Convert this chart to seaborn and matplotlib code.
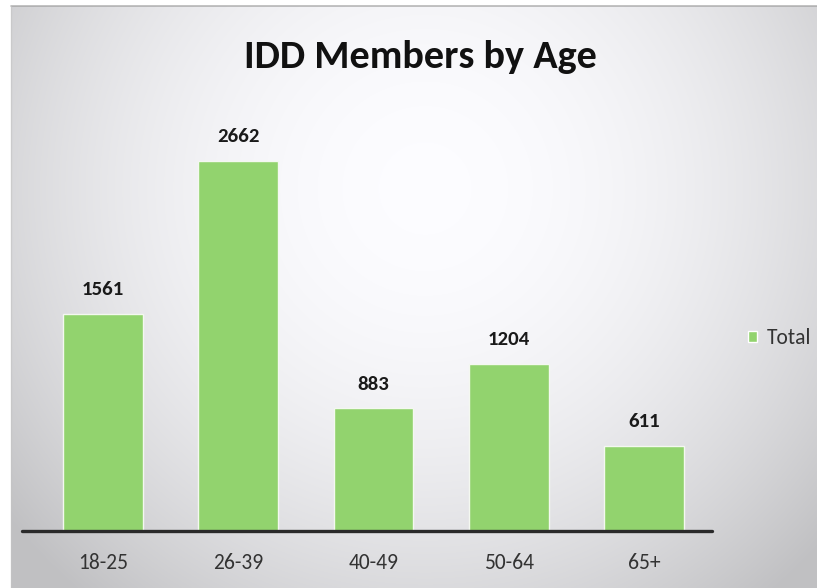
import numpy as np
import pandas as pd
import matplotlib
matplotlib.use("Agg")
import matplotlib.pyplot as plt
from matplotlib.patches import Patch
import seaborn as sns

age_groups = ["18-25", "26-39", "40-49", "50-64", "65+"]
members = [1561, 2662, 883, 1204, 611]
series_name = "Total"
title_text = "IDD Members by Age"

BAR_GREEN = "#92d36e"
TEXT_DARK = "#1a1a1a"
TICK_GREY = "#333333"

sns.set_theme(style="white")
plt.rcParams["font.family"] = ["Carlito", "DejaVu Sans"]

W, H = 817, 588
fig = plt.figure(figsize=(W / 100, H / 100), dpi=100)

# pale grey backdrop: near-white in the middle, greyer toward the edges
bg = fig.add_axes([0, 0, 1, 1], zorder=0)
yy, xx = np.mgrid[0:H, 0:W]
dx = (xx - W * 0.52) / (W * 0.52)
dy = (yy - H * 0.32) / (H * 0.72)
r = np.clip(np.sqrt(dx ** 2 + dy ** 2), 0, 1.5)
shade = 0.99 - 0.15 * np.clip(r, 0, 1.25) ** 2.0
img = np.dstack([shade, shade, np.clip(shade * 1.012, 0, 1)])
img[:, :11] = 1.0
img[:6, :] = 1.0
bg.imshow(np.clip(img, 0, 1), aspect="auto", extent=[0, 1, 0, 1])
bg.plot([11 / W, 1], [1 - 6 / H, 1 - 6 / H], color="#9a9a9a", lw=1.2, alpha=0.7)
bg.plot([11 / W, 11 / W], [0, 1 - 6 / H], color="#c4c4c4", lw=1.0, alpha=0.6)
bg.set_xlim(0, 1)
bg.set_ylim(0, 1)
bg.axis("off")

# plot area: baseline at y=531 px, category band 35..712 px
left, right = 35 / W, 712 / W
bottom, top = (H - 531) / H, (H - 100) / H
ax = fig.add_axes([left, bottom, right - left, top - bottom], zorder=1)
ax.patch.set_alpha(0)

df = pd.DataFrame({"age": age_groups, "members": members})
sns.barplot(data=df, x="age", y="members", color=BAR_GREEN, saturation=1,
            width=0.59, ax=ax, edgecolor="#f4f8f0", linewidth=1.0)

px_per_unit = 370 / 2662
ax.set_ylim(0, 431 / px_per_unit)
ax.set_xlim(-0.5, 4.5)

for i, v in enumerate(members):
    ax.annotate(f"{v}", (i, v), xytext=(0, 13.5), textcoords="offset points",
                ha="center", va="baseline", fontsize=15, fontweight="bold",
                color=TEXT_DARK)

for s in ax.spines.values():
    s.set_visible(False)
ax.axhline(0, xmin=-13 / 677, xmax=1.0, color="#2a2a2a", lw=2.4, clip_on=False)
ax.set_yticks([])
ax.set_xlabel("")
ax.set_ylabel("")
ax.tick_params(axis="x", length=0, pad=15.5, labelsize=15.5, labelcolor=TICK_GREY)

fig.text(420 / W, 1 - 68 / H, title_text, ha="center", va="baseline",
         fontsize=29, fontweight="bold", color="#111111")

ax.legend(handles=[Patch(facecolor=BAR_GREEN, label=series_name)],
          loc="center left", bbox_to_anchor=(748 / W, 1 - 338 / H),
          bbox_transform=fig.transFigure, frameon=False, fontsize=15.5,
          handlelength=0.42, handleheight=0.42, handletextpad=0.45,
          labelcolor=TICK_GREY, borderpad=0, borderaxespad=0)

fig.savefig("out.png", dpi=100)
